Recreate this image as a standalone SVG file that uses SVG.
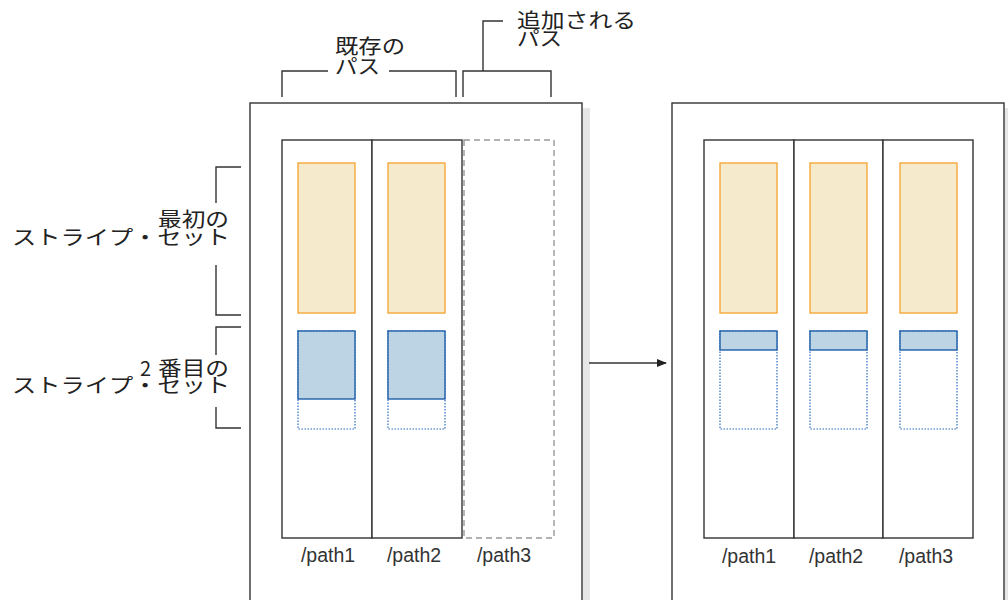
<svg xmlns="http://www.w3.org/2000/svg" width="1008" height="600" viewBox="0 0 1008 600">
<defs>
<style>
.panel{fill:#fff;stroke:#333;stroke-width:1.4}
.shadow{fill:#e6e6e6}
.col{fill:#fff;stroke:#333;stroke-width:1.4}
.newcol{fill:#fff;stroke:#999;stroke-width:1.4;stroke-dasharray:6 4}
.s1{fill:#f5eacb;stroke:#f5a73a;stroke-width:1.4}
.s2{fill:#bdd4e4;stroke:#1d5ea8;stroke-width:1.4}
.s2e{fill:#fff;stroke:#2a6cc0;stroke-width:1.2;stroke-dasharray:1.5 1.5}
.br{fill:none;stroke:#333;stroke-width:1.4}
.jp{font-family:"Noto Sans CJK JP","Noto Sans",sans-serif;font-size:20px;fill:#222}
.lbl{font-family:"Liberation Sans",Arial,sans-serif;font-size:19.5px;fill:#333;text-anchor:middle}
</style>
<marker id="ah" markerWidth="10" markerHeight="8" refX="9" refY="4" orient="auto" markerUnits="userSpaceOnUse">
<path d="M0,0 L10,4 L0,8 Z" fill="#222"/>
</marker>
</defs>
<rect width="1008" height="600" fill="#fff"/>

<g id="panel-before">
<rect class="shadow" x="583" y="108" width="7" height="500"/>
<rect class="panel" x="250" y="103" width="332" height="510"/>
<rect class="col" x="282" y="140" width="90" height="398"/>
<rect class="col" x="372" y="140" width="90" height="398"/>
<rect class="newcol" x="464" y="140" width="90" height="398"/>
<rect class="s1" x="298" y="163" width="57" height="150"/>
<rect class="s1" x="388" y="163" width="57" height="150"/>
<rect class="s2e" x="298" y="331" width="57" height="98"/>
<rect class="s2e" x="388" y="331" width="57" height="98"/>
<rect class="s2" x="298" y="331" width="57" height="68"/>
<rect class="s2" x="388" y="331" width="57" height="68"/>
<text class="lbl" x="328" y="562">/path1</text>
<text class="lbl" x="414" y="562">/path2</text>
<text class="lbl" x="504" y="562">/path3</text>
</g>

<g id="panel-after">
<rect class="shadow" x="1005" y="108" width="7" height="500"/>
<rect class="panel" x="672" y="103" width="332" height="510"/>
<rect class="col" x="704" y="140" width="90" height="398"/>
<rect class="col" x="794" y="140" width="89" height="398"/>
<rect class="col" x="883" y="140" width="90" height="398"/>
<rect class="s1" x="720" y="163" width="57" height="150"/>
<rect class="s1" x="810" y="163" width="57" height="150"/>
<rect class="s1" x="900" y="163" width="57" height="150"/>
<rect class="s2e" x="720" y="331" width="57" height="98"/>
<rect class="s2e" x="810" y="331" width="57" height="98"/>
<rect class="s2e" x="900" y="331" width="57" height="98"/>
<rect class="s2" x="720" y="331" width="57" height="19"/>
<rect class="s2" x="810" y="331" width="57" height="19"/>
<rect class="s2" x="900" y="331" width="57" height="19"/>
<text class="lbl" x="749" y="563">/path1</text>
<text class="lbl" x="836" y="563">/path2</text>
<text class="lbl" x="926" y="563">/path3</text>
</g>

<g id="label-existing">
<path class="br" d="M282,97 V71 H328 M389,71 H456 V97"/>
<text class="jp" x="335" y="54" textLength="70" lengthAdjust="spacingAndGlyphs">既存の</text>
<text class="jp" x="335" y="74" textLength="45" lengthAdjust="spacingAndGlyphs">パス</text>
</g>

<g id="label-added">
<path class="br" d="M463,97 V71 H551 V97 M483,71 V21 H503"/>
<text class="jp" x="517" y="28" textLength="119" lengthAdjust="spacingAndGlyphs">追加される</text>
<text class="jp" x="517" y="46" textLength="45" lengthAdjust="spacingAndGlyphs">パス</text>
</g>

<g id="label-first">
<path class="br" d="M241,167 H216 V203 M216,265 V315 H241"/>
<text class="jp" x="158" y="227" textLength="71" lengthAdjust="spacingAndGlyphs">最初の</text>
<text class="jp" x="12" y="245" textLength="218" lengthAdjust="spacingAndGlyphs">ストライプ・セット</text>
</g>

<g id="label-second">
<path class="br" d="M241,327 H216 V355 M216,407 V428 H241"/>
<text class="jp" y="376"><tspan x="140">2</tspan><tspan x="158" textLength="71" lengthAdjust="spacingAndGlyphs">番目の</tspan></text>
<text class="jp" x="12" y="393" textLength="218" lengthAdjust="spacingAndGlyphs">ストライプ・セット</text>
</g>

<g id="connectors">
<line x1="589" y1="363" x2="666" y2="363" stroke="#333" stroke-width="1.4" marker-end="url(#ah)"/>
</g>
</svg>
